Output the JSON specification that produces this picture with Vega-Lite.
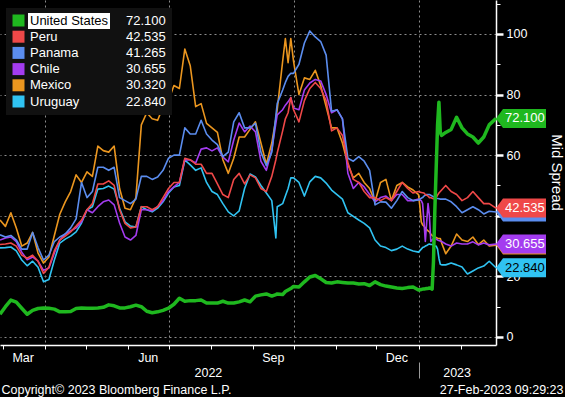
{
  "$schema": "https://vega.github.io/schema/vega-lite/v6.json",
  "width": 496,
  "height": 345,
  "autosize": {"type": "none"},
  "padding": {"left": 0, "top": 0, "right": 69, "bottom": 52},
  "background": "#000000",
  "config": {
    "view": {"stroke": null},
    "font": "Liberation Sans",
    "axis": {"labelFont": "Liberation Sans", "titleFont": "Liberation Sans", "titleFontWeight": "normal", "labelColor": "#ffffff", "titleColor": "#ffffff"},
    "legend": {"labelFont": "Liberation Sans", "titleFont": "Liberation Sans"}
  },
  "datasets": {
    "main": [
      {"d":"2022-02-27","United States":7.5,"Peru":30.5,"Panama":33.7,"Chile":32,"Mexico":38.6,"Uruguay":29.4},
      {"d":"2022-03-03","United States":10,"Peru":30.7,"Panama":33,"Chile":32.7,"Mexico":36.5,"Uruguay":29.5},
      {"d":"2022-03-07","United States":12.2,"Peru":31,"Panama":33.5,"Chile":33,"Mexico":41,"Uruguay":29.7},
      {"d":"2022-03-11","United States":11.5,"Peru":30,"Panama":32,"Chile":31.5,"Mexico":36,"Uruguay":28.4},
      {"d":"2022-03-15","United States":9.5,"Peru":27,"Panama":29,"Chile":28,"Mexico":30,"Uruguay":25.4},
      {"d":"2022-03-19","United States":7.5,"Peru":26,"Panama":29,"Chile":25.5,"Mexico":31,"Uruguay":23.5},
      {"d":"2022-03-23","United States":8.8,"Peru":27,"Panama":34.5,"Chile":26.4,"Mexico":34.5,"Uruguay":25},
      {"d":"2022-03-27","United States":9.4,"Peru":25,"Panama":29.5,"Chile":25,"Mexico":27.7,"Uruguay":23},
      {"d":"2022-03-31","United States":9.6,"Peru":21,"Panama":25.4,"Chile":22,"Mexico":24.4,"Uruguay":18.2},
      {"d":"2022-04-04","United States":9.5,"Peru":23,"Panama":27,"Chile":22.8,"Mexico":26.4,"Uruguay":19},
      {"d":"2022-04-08","United States":9.2,"Peru":28.5,"Panama":31.5,"Chile":27.7,"Mexico":33.5,"Uruguay":25.4},
      {"d":"2022-04-12","United States":8.3,"Peru":32,"Panama":33,"Chile":32,"Mexico":40.5,"Uruguay":31},
      {"d":"2022-04-16","United States":8.3,"Peru":33.3,"Panama":34,"Chile":34,"Mexico":44.6,"Uruguay":32.3},
      {"d":"2022-04-20","United States":8.4,"Peru":34.7,"Panama":36,"Chile":35,"Mexico":48,"Uruguay":33.3},
      {"d":"2022-04-24","United States":9.4,"Peru":36.6,"Panama":39,"Chile":36,"Mexico":53.5,"Uruguay":34.7},
      {"d":"2022-04-28","United States":9.6,"Peru":38.6,"Panama":51,"Chile":38,"Mexico":51,"Uruguay":37.6},
      {"d":"2022-05-02","United States":9.5,"Peru":42,"Panama":46,"Chile":42,"Mexico":54.5,"Uruguay":42},
      {"d":"2022-05-06","United States":9.5,"Peru":44,"Panama":48,"Chile":41,"Mexico":53,"Uruguay":43},
      {"d":"2022-05-10","United States":9.6,"Peru":50.5,"Panama":56,"Chile":43,"Mexico":63,"Uruguay":48.8},
      {"d":"2022-05-14","United States":9.8,"Peru":50.5,"Panama":56,"Chile":44.6,"Mexico":61.5,"Uruguay":49},
      {"d":"2022-05-18","United States":10.6,"Peru":51.5,"Panama":55,"Chile":45.2,"Mexico":61,"Uruguay":49.8},
      {"d":"2022-05-22","United States":10.3,"Peru":50,"Panama":56,"Chile":43.6,"Mexico":63,"Uruguay":48.8},
      {"d":"2022-05-26","United States":9.6,"Peru":42,"Panama":46,"Chile":37.6,"Mexico":49,"Uruguay":42.5},
      {"d":"2022-05-30","United States":9.6,"Peru":37.5,"Panama":45,"Chile":33,"Mexico":42.5,"Uruguay":38},
      {"d":"2022-06-03","United States":10,"Peru":36,"Panama":44,"Chile":32,"Mexico":42,"Uruguay":36.6},
      {"d":"2022-06-07","United States":10.5,"Peru":36.3,"Panama":45.5,"Chile":33.5,"Mexico":46,"Uruguay":36.3},
      {"d":"2022-06-11","United States":10,"Peru":43,"Panama":53,"Chile":42,"Mexico":70,"Uruguay":43},
      {"d":"2022-06-15","United States":8.5,"Peru":43,"Panama":53,"Chile":42,"Mexico":74,"Uruguay":42},
      {"d":"2022-06-19","United States":8,"Peru":42,"Panama":52,"Chile":41.6,"Mexico":72,"Uruguay":41.3},
      {"d":"2022-06-23","United States":8.3,"Peru":43,"Panama":52.8,"Chile":43,"Mexico":71.5,"Uruguay":42.5},
      {"d":"2022-06-27","United States":8.8,"Peru":46,"Panama":55,"Chile":45,"Mexico":76,"Uruguay":44.6},
      {"d":"2022-07-01","United States":9.5,"Peru":49,"Panama":59,"Chile":48,"Mexico":78,"Uruguay":47.5},
      {"d":"2022-07-05","United States":10.8,"Peru":51,"Panama":60,"Chile":49.5,"Mexico":83,"Uruguay":49.5},
      {"d":"2022-07-09","United States":12.8,"Peru":51,"Panama":60,"Chile":51,"Mexico":82,"Uruguay":50},
      {"d":"2022-07-13","United States":11.8,"Peru":59,"Panama":69,"Chile":58.5,"Mexico":95,"Uruguay":58.4},
      {"d":"2022-07-17","United States":12,"Peru":58.5,"Panama":67,"Chile":58.4,"Mexico":89.5,"Uruguay":56.8},
      {"d":"2022-07-21","United States":12,"Peru":57,"Panama":67,"Chile":57.4,"Mexico":76,"Uruguay":55},
      {"d":"2022-07-25","United States":12.2,"Peru":57,"Panama":71.5,"Chile":62,"Mexico":77,"Uruguay":55.8},
      {"d":"2022-07-29","United States":11.2,"Peru":54,"Panama":67,"Chile":62.4,"Mexico":70.5,"Uruguay":51},
      {"d":"2022-08-02","United States":11.2,"Peru":54,"Panama":65,"Chile":61.4,"Mexico":69,"Uruguay":48},
      {"d":"2022-08-06","United States":11.2,"Peru":50.5,"Panama":63.5,"Chile":62.4,"Mexico":67.5,"Uruguay":47},
      {"d":"2022-08-10","United States":11.8,"Peru":47,"Panama":59.5,"Chile":59.4,"Mexico":58.5,"Uruguay":44},
      {"d":"2022-08-14","United States":11.2,"Peru":46,"Panama":61,"Chile":57.8,"Mexico":54,"Uruguay":41.3},
      {"d":"2022-08-18","United States":11.2,"Peru":52,"Panama":71,"Chile":65,"Mexico":59,"Uruguay":40},
      {"d":"2022-08-22","United States":11.6,"Peru":54,"Panama":74,"Chile":70.6,"Mexico":66,"Uruguay":41.6},
      {"d":"2022-08-26","United States":12.2,"Peru":50.5,"Panama":69,"Chile":67.7,"Mexico":66,"Uruguay":49},
      {"d":"2022-08-30","United States":11.6,"Peru":53.5,"Panama":69,"Chile":69.6,"Mexico":68.5,"Uruguay":53.8},
      {"d":"2022-09-03","United States":13.5,"Peru":52.5,"Panama":70.5,"Chile":67.7,"Mexico":71,"Uruguay":52.8},
      {"d":"2022-09-07","United States":13.9,"Peru":49,"Panama":61,"Chile":58,"Mexico":64,"Uruguay":50},
      {"d":"2022-09-11","United States":14.2,"Peru":48,"Panama":56.5,"Chile":55,"Mexico":57,"Uruguay":47.5},
      {"d":"2022-09-15","United States":13.5,"Peru":53,"Panama":61,"Chile":61.7,"Mexico":64,"Uruguay":45},
      {"d":"2022-09-18","United States":14,"Peru":58.5,"Panama":73,"Chile":70.5,"Mexico":72,"Uruguay":32.7},
      {"d":"2022-09-19","United States":14.2,"Peru":60.7,"Panama":77,"Chile":73.3,"Mexico":75,"Uruguay":43},
      {"d":"2022-09-23","United States":14,"Peru":68,"Panama":81.5,"Chile":75,"Mexico":91,"Uruguay":44},
      {"d":"2022-09-25","United States":15,"Peru":72,"Panama":84,"Chile":76.5,"Mexico":98.5,"Uruguay":46.5},
      {"d":"2022-09-27","United States":15.5,"Peru":74,"Panama":86,"Chile":77.6,"Mexico":90.5,"Uruguay":49},
      {"d":"2022-09-29","United States":16,"Peru":79,"Panama":87,"Chile":79,"Mexico":98.5,"Uruguay":52.5},
      {"d":"2022-10-01","United States":16.7,"Peru":75,"Panama":87,"Chile":75.6,"Mexico":91,"Uruguay":52.5},
      {"d":"2022-10-05","United States":16.5,"Peru":71,"Panama":90,"Chile":75,"Mexico":80,"Uruguay":51},
      {"d":"2022-10-09","United States":18.2,"Peru":78,"Panama":97,"Chile":81.5,"Mexico":85.5,"Uruguay":46.5},
      {"d":"2022-10-13","United States":19.8,"Peru":82,"Panama":101,"Chile":83.8,"Mexico":85,"Uruguay":51.2},
      {"d":"2022-10-17","United States":20.3,"Peru":84,"Panama":99,"Chile":85,"Mexico":88,"Uruguay":53},
      {"d":"2022-10-21","United States":19.2,"Peru":82,"Panama":97.5,"Chile":84.5,"Mexico":83,"Uruguay":52.5},
      {"d":"2022-10-25","United States":18,"Peru":78,"Panama":93,"Chile":80,"Mexico":76,"Uruguay":50.8},
      {"d":"2022-10-29","United States":17.8,"Peru":68,"Panama":74.5,"Chile":74,"Mexico":69,"Uruguay":48.5},
      {"d":"2022-11-02","United States":18.2,"Peru":69,"Panama":75,"Chile":75,"Mexico":69,"Uruguay":47},
      {"d":"2022-11-06","United States":18,"Peru":66.5,"Panama":72,"Chile":72,"Mexico":64,"Uruguay":45.5},
      {"d":"2022-11-10","United States":17.8,"Peru":57.5,"Panama":59,"Chile":54,"Mexico":57,"Uruguay":41},
      {"d":"2022-11-14","United States":17.8,"Peru":52,"Panama":58,"Chile":49,"Mexico":52.5,"Uruguay":39.8},
      {"d":"2022-11-18","United States":17.5,"Peru":51,"Panama":59.5,"Chile":51,"Mexico":54,"Uruguay":38.6},
      {"d":"2022-11-22","United States":17.6,"Peru":48,"Panama":58,"Chile":49.5,"Mexico":51,"Uruguay":37.5},
      {"d":"2022-11-26","United States":17,"Peru":46,"Panama":55,"Chile":47,"Mexico":49,"Uruguay":36},
      {"d":"2022-11-30","United States":18.2,"Peru":46,"Panama":43.6,"Chile":44.6,"Mexico":44.6,"Uruguay":32},
      {"d":"2022-12-04","United States":17.3,"Peru":45,"Panama":44.6,"Chile":46,"Mexico":51,"Uruguay":30},
      {"d":"2022-12-08","United States":16.8,"Peru":46,"Panama":44.5,"Chile":46.5,"Mexico":52,"Uruguay":29.5},
      {"d":"2022-12-12","United States":16.5,"Peru":45,"Panama":42.5,"Chile":45,"Mexico":45,"Uruguay":28.5},
      {"d":"2022-12-16","United States":16.2,"Peru":48,"Panama":45,"Chile":47,"Mexico":50,"Uruguay":29},
      {"d":"2022-12-20","United States":16,"Peru":51,"Panama":48,"Chile":47,"Mexico":51,"Uruguay":30},
      {"d":"2022-12-24","United States":16.3,"Peru":49,"Panama":46,"Chile":45,"Mexico":49.5,"Uruguay":29},
      {"d":"2022-12-28","United States":16.5,"Peru":47.5,"Panama":45,"Chile":45,"Mexico":48.5,"Uruguay":28.4},
      {"d":"2023-01-01","United States":15.5,"Peru":48,"Panama":45.2,"Chile":45.5,"Mexico":47,"Uruguay":28},
      {"d":"2023-01-02","United States":15.6,"Peru":47.8,"Panama":45.5,"Chile":45.3,"Mexico":43,"Uruguay":28.5},
      {"d":"2023-01-03","United States":15.7,"Peru":47.7,"Panama":45.8,"Chile":45,"Mexico":38,"Uruguay":29},
      {"d":"2023-01-04","United States":15.8,"Peru":47.6,"Panama":46,"Chile":44,"Mexico":37,"Uruguay":29.5},
      {"d":"2023-01-05","United States":15.8,"Peru":47.5,"Panama":46.5,"Chile":38,"Mexico":36.6,"Uruguay":29.7},
      {"d":"2023-01-06","United States":15.9,"Peru":47,"Panama":46.8,"Chile":31.5,"Mexico":36,"Uruguay":30},
      {"d":"2023-01-07","United States":16,"Peru":46.8,"Panama":47,"Chile":38,"Mexico":35.5,"Uruguay":30.2},
      {"d":"2023-01-08","United States":16,"Peru":46.5,"Panama":47,"Chile":44,"Mexico":35,"Uruguay":30.5},
      {"d":"2023-01-09","United States":16.2,"Peru":46,"Panama":47,"Chile":40,"Mexico":34.7,"Uruguay":30.7},
      {"d":"2023-01-10","United States":16,"Peru":46,"Panama":46.8,"Chile":31.5,"Mexico":34,"Uruguay":30.5},
      {"d":"2023-01-11","United States":15.8,"Peru":45.8,"Panama":46.5,"Chile":32,"Mexico":33.5,"Uruguay":30.5},
      {"d":"2023-01-12","United States":25,"Peru":45.6,"Panama":46.3,"Chile":32.5,"Mexico":33.2,"Uruguay":30.3},
      {"d":"2023-01-13","United States":42,"Peru":45.5,"Panama":46,"Chile":32.7,"Mexico":33,"Uruguay":30},
      {"d":"2023-01-14","United States":56,"Peru":46,"Panama":45.8,"Chile":32.3,"Mexico":32.8,"Uruguay":30},
      {"d":"2023-01-15","United States":70,"Peru":46.8,"Panama":45.7,"Chile":32,"Mexico":32.6,"Uruguay":29},
      {"d":"2023-01-16","United States":77.5,"Peru":47.5,"Panama":45.6,"Chile":31.8,"Mexico":32.5,"Uruguay":26},
      {"d":"2023-01-17","United States":67.5,"Peru":48,"Panama":45.5,"Chile":31.7,"Mexico":32.5,"Uruguay":24},
      {"d":"2023-01-18","United States":66.5,"Peru":48.5,"Panama":45.5,"Chile":31.5,"Mexico":31,"Uruguay":23.8},
      {"d":"2023-01-21","United States":67.5,"Peru":50,"Panama":45.5,"Chile":30.7,"Mexico":27.5,"Uruguay":23.8},
      {"d":"2023-01-25","United States":68.5,"Peru":48,"Panama":44.6,"Chile":30,"Mexico":30,"Uruguay":24.4},
      {"d":"2023-01-29","United States":72.5,"Peru":47,"Panama":43,"Chile":31,"Mexico":34,"Uruguay":23.8},
      {"d":"2023-02-02","United States":69,"Peru":45,"Panama":41,"Chile":30.7,"Mexico":32,"Uruguay":23.1},
      {"d":"2023-02-06","United States":67,"Peru":46,"Panama":42,"Chile":30.7,"Mexico":31.5,"Uruguay":20.8},
      {"d":"2023-02-10","United States":66,"Peru":48,"Panama":43,"Chile":31.4,"Mexico":33,"Uruguay":21.8},
      {"d":"2023-02-14","United States":64,"Peru":46,"Panama":42,"Chile":30.4,"Mexico":30.5,"Uruguay":22.8},
      {"d":"2023-02-18","United States":66,"Peru":44,"Panama":40.6,"Chile":31,"Mexico":32,"Uruguay":23.4},
      {"d":"2023-02-22","United States":70,"Peru":44,"Panama":41.5,"Chile":30.4,"Mexico":30,"Uruguay":25},
      {"d":"2023-02-27","United States":72.1,"Peru":42.535,"Panama":41.265,"Chile":30.655,"Mexico":30.32,"Uruguay":22.84}
    ],
    "tags": [
      {"d":"2023-02-27","c":"Panama","v":41.265,"lbl":"41.265"},
      {"d":"2023-02-27","c":"Mexico","v":30.32,"lbl":"30.320"},
      {"d":"2023-02-27","c":"United States","v":72.1,"lbl":"72.100"},
      {"d":"2023-02-27","c":"Peru","v":42.535,"lbl":"42.535"},
      {"d":"2023-02-27","c":"Chile","v":30.655,"lbl":"30.655"},
      {"d":"2023-02-27","c":"Uruguay","v":22.84,"lbl":"22.840"}
    ]
  },
  "layer": [
    {
      "data": {"name": "main"},
      "transform": [{"fold": ["Uruguay", "Mexico", "Chile", "Panama", "Peru", "United States"], "as": ["c", "v"]}],
      "mark": {"type": "line", "strokeJoin": "round"},
      "encoding": {
        "x": {
          "field": "d", "type": "temporal",
          "scale": {"domain": [{"year": 2022, "month": 2, "date": 27, "utc": true}, {"year": 2023, "month": 2, "date": 27, "utc": true}], "nice": false},
          "axis": {
            "orient": "bottom", "title": null,
            "values": [{"year": 2022, "month": 4, "date": 1, "utc": true}, {"year": 2022, "month": 7, "date": 1, "utc": true}, {"year": 2022, "month": 10, "date": 1, "utc": true}, {"year": 2023, "month": 1, "date": 1, "utc": true}],
            "grid": true, "gridColor": "#8c8c8c", "gridDash": [2, 3], "gridWidth": 1,
            "ticks": false, "labels": false, "domain": false
          }
        },
        "y": {
          "field": "v", "type": "quantitative",
          "scale": {"domain": [-2.64, 111.2], "nice": false, "zero": false},
          "axis": {
            "orient": "right",
            "values": [0, 20, 40, 60, 80, 100],
            "grid": true, "gridColor": "#8c8c8c", "gridDash": [2, 3], "gridWidth": 1,
            "domain": true, "domainColor": "#ffffff", "domainWidth": 1.5,
            "ticks": true, "tickColor": "#ffffff", "tickSize": 7, "tickWidth": 2.5,
            "labelExpr": "datum.value === 40 ? '' : datum.label",
            "labelFontSize": 12.5, "labelPadding": 3, "labelColor": "#ffffff", "labelFlush": false, "labelOverlap": false,
            "title": "Mid Spread", "titleFontSize": 15, "titleColor": "#ffffff", "titleAngle": 90,
            "titleX": 60, "titleY": 172, "titleAlign": "center", "titleBaseline": "middle"
          }
        },
        "color": {
          "field": "c", "type": "nominal",
          "scale": {
            "domain": ["United States", "Peru", "Panama", "Chile", "Mexico", "Uruguay"],
            "range": ["#1fb81f", "#ef4848", "#5b8def", "#a43cf0", "#eb961f", "#30c3f2"]
          },
          "legend": {
            "orient": "none", "legendX": 12, "legendY": 14, "title": null, "padding": 0,
            "symbolType": "square", "symbolSize": 144, "symbolStrokeWidth": 0,
            "labelExpr": "datum.label === 'United States' ? '' : datum.label",
            "labelColor": "#ffffff", "labelFontSize": 13, "labelOffset": 5, "rowPadding": 2.2, "zindex": 2,
            "encode": {"symbols": {"update": {"fill": {"scale": "color", "field": "value"}, "stroke": {"value": "transparent"}, "strokeWidth": {"value": 0}, "opacity": {"value": 1}}}}
          }
        },
        "strokeWidth": {"condition": {"test": "datum.c === 'United States'", "value": 3.5}, "value": 1.6}
      }
    },
    {
      "data": {"name": "tags"},
      "mark": {"type": "point", "size": 10000, "filled": true, "strokeWidth": 0},
      "encoding": {
        "x": {
          "field": "d", "type": "temporal",
          "axis": {
            "orient": "bottom", "title": null,
            "values": [{"year": 2022, "month": 3, "date": 1, "utc": true}, {"year": 2022, "month": 4, "date": 1, "utc": true}, {"year": 2022, "month": 5, "date": 1, "utc": true}, {"year": 2022, "month": 6, "date": 1, "utc": true}, {"year": 2022, "month": 7, "date": 1, "utc": true}, {"year": 2022, "month": 8, "date": 1, "utc": true}, {"year": 2022, "month": 9, "date": 1, "utc": true}, {"year": 2022, "month": 10, "date": 1, "utc": true}, {"year": 2022, "month": 11, "date": 1, "utc": true}, {"year": 2022, "month": 12, "date": 1, "utc": true}, {"year": 2023, "month": 1, "date": 1, "utc": true}, {"year": 2023, "month": 2, "date": 1, "utc": true}],
            "grid": false, "ticks": true, "tickSize": 4, "tickColor": "#ffffff", "tickWidth": 1,
            "domain": true, "domainColor": "#ffffff", "domainWidth": 1.5,
            "labelExpr": "indexof(['Mar','Jun','Sep','Dec'], utcFormat(datum.value, '%b')) >= 0 ? utcFormat(datum.value, '%b') : ''",
            "labelOffset": 20, "labelPadding": 2, "labelFontSize": 12.5, "labelColor": "#ffffff",
            "labelFlush": false, "labelOverlap": false, "labelBound": false
          }
        },
        "y": {"field": "v", "type": "quantitative", "axis": {
            "orient": "right", "values": [10, 30, 50, 70, 90, 110],
            "grid": false, "domain": false, "labels": false, "ticks": true, "tickSize": 4, "tickColor": "#ffffff", "tickWidth": 1, "title": null
        }},
        "color": {"field": "c", "type": "nominal", "legend": null},
        "opacity": {
          "field": "lbl", "type": "ordinal",
          "scale": {"domain": ["72.100", "42.535", "41.265", "30.655", "30.320", "22.840"], "range": [1, 1]},
          "legend": {
            "orient": "none", "legendX": 6, "legendY": 8, "title": null, "padding": 6,
            "fillColor": "#111111", "symbolSize": 0, "symbolOpacity": 0, "symbolStrokeWidth": 0,
            "labelOffset": 101, "labelColor": "#ffffff", "labelFontSize": 13, "rowPadding": 2.2, "zindex": 1
          }
        },
        "shape": {
          "field": "c", "type": "nominal",
          "scale": {
            "domain": ["Panama", "Mexico", "United States", "Peru", "Chile", "Uruguay"],
            "range": ["M0,0L0.14,-0.19L1,-0.19L1,0.19L0.14,0.19Z", "M0,0L0.14,-0.19L1,-0.19L1,0.19L0.14,0.19Z", "M0,0L0.14,-0.19L1,-0.19L1,0.19L0.14,0.19Z", "M0,0L0.14,-0.19L1,-0.19L1,0.19L0.14,0.19Z", "M0,0L0.14,-0.19L1,-0.19L1,0.19L0.14,0.19Z", "M0,0L0.14,-0.19L1,-0.19L1,0.19L0.14,0.19Z"]
          },
          "legend": {
            "orient": "none", "legendX": 28, "legendY": 13, "values": ["United States"], "title": null, "padding": 1,
            "fillColor": "#ffffff", "symbolSize": 0, "symbolOpacity": 0, "symbolStrokeWidth": 0,
            "labelOffset": -12, "labelColor": "#000000", "labelFontSize": 13, "zindex": 3
          }
        }
      }
    },
    {
      "data": {"name": "tags"},
      "transform": [{"filter": {"field": "c", "oneOf": ["United States", "Peru", "Chile", "Uruguay"]}}],
      "mark": {"type": "text", "align": "left", "baseline": "middle", "dx": 9, "fontSize": 13, "font": "Liberation Sans"},
      "encoding": {
        "x": {
          "field": "d", "type": "temporal",
          "axis": {
            "orient": "bottom",
            "values": [{"year": 2022, "month": 7, "date": 30, "utc": true}, {"year": 2023, "month": 1, "date": 29, "utc": true}],
            "grid": false, "ticks": false, "tickSize": 0, "domain": false,
            "labelExpr": "utcFormat(datum.value, '%Y')", "labelPadding": 21, "labelFontSize": 12.5, "labelColor": "#ffffff",
            "labelFlush": false, "labelOverlap": false,
            "title": "Copyright\u00a9 2023 Bloomberg Finance L.P.", "titleX": 1, "titleY": 44, "titleAlign": "left", "titleBaseline": "middle",
            "titleFontSize": 12.5, "titleColor": "#ffffff", "titleAngle": 0
          }
        },
        "y": {"field": "v", "type": "quantitative", "axis": null},
        "text": {"field": "lbl"},
        "color": {"condition": {"test": "datum.c === 'Uruguay'", "value": "#000000"}, "value": "#ffffff"}
      }
    },
    {
      "data": {"name": "tags"},
      "mark": {"type": "rule", "opacity": 0},
      "encoding": {
        "x": {
          "field": "d", "type": "temporal",
          "axis": {
            "orient": "bottom", "offset": 17,
            "values": [{"year": 2023, "month": 1, "date": 1, "utc": true}],
            "grid": false, "ticks": true, "tickSize": 16, "tickColor": "#9a9a9a", "tickWidth": 1,
            "labels": false, "domain": false,
            "title": "27-Feb-2023 09:29:23", "titleX": 563, "titleY": 27, "titleAlign": "right", "titleBaseline": "middle",
            "titleFontSize": 12.5, "titleColor": "#ffffff", "titleAngle": 0
          }
        }
      }
    }
  ],
  "resolve": {"axis": {"x": "independent", "y": "independent"}}
}
